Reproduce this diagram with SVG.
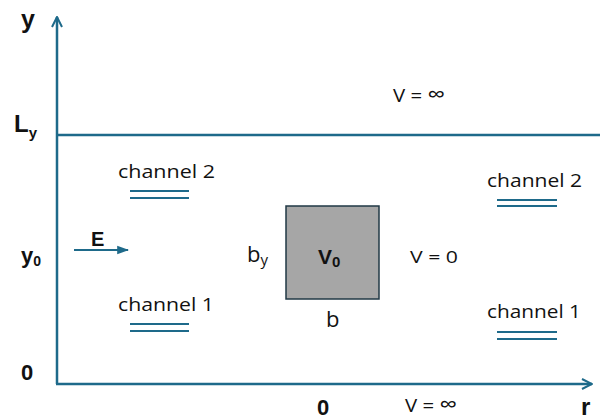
<svg xmlns="http://www.w3.org/2000/svg" width="600" height="419" viewBox="0 0 600 419">
<defs>
<style>
.ax{stroke:#1e6a8a;fill:none;stroke-width:2.5}
.ch{stroke:#1e6a8a;stroke-width:2}
.t{font-family:"Open Sans","Liberation Sans",Arial,sans-serif;fill:#111}
.b{font-family:"Liberation Sans",Arial,sans-serif;font-weight:bold;fill:#111}
</style>
<marker id="ah" viewBox="0 0 10 10" refX="9" refY="5" markerWidth="5" markerHeight="5" orient="auto" markerUnits="strokeWidth">
<path d="M1,1 L9,5 L1,9" fill="none" stroke="#1e6a8a" stroke-width="1.6"/>
</marker>
<marker id="ah2" viewBox="0 0 10 10" refX="9" refY="5" markerWidth="6" markerHeight="6" orient="auto" markerUnits="strokeWidth">
<path d="M0,1.5 L10,5 L0,8.5 Z" fill="#1e6a8a"/>
</marker>
</defs>
<rect width="600" height="419" fill="#fff"/>
<g id="connectors">
<line class="ax" x1="57" y1="384" x2="57" y2="17" marker-end="url(#ah)"/>
<line class="ax" x1="56" y1="384" x2="592" y2="384" marker-end="url(#ah)"/>
<line class="ax" x1="57" y1="135" x2="600" y2="135" stroke-width="2"/>
<line x1="74" y1="250" x2="128" y2="250" stroke="#1e6a8a" stroke-width="2" marker-end="url(#ah2)"/>
</g>
<g id="axis-labels">
<text class="b" x="21" y="28" font-size="25">y</text>
<text class="b" x="14" y="132" font-size="24">L<tspan font-size="15" dy="6">y</tspan></text>
<text class="b" x="21" y="263" font-size="22">y<tspan font-size="14" dy="3">0</tspan></text>
<text class="b" x="21" y="380" font-size="22">0</text>
<text class="b" x="317" y="415" font-size="22">0</text>
<text class="b" x="581" y="415" font-size="24">r</text>
<text class="b" x="91" y="246" font-size="20">E</text>
</g>
<g id="channel2-left">
<text class="t" x="118" y="178" font-size="17.5" textLength="97" lengthAdjust="spacingAndGlyphs">channel 2</text>
<line class="ch" x1="130" y1="191" x2="189" y2="191"/>
<line class="ch" x1="130" y1="198" x2="189" y2="198"/>
</g>
<g id="channel1-left">
<text class="t" x="118" y="311" font-size="17.5" textLength="96" lengthAdjust="spacingAndGlyphs">channel 1</text>
<line class="ch" x1="130" y1="324" x2="189" y2="324"/>
<line class="ch" x1="130" y1="331" x2="189" y2="331"/>
</g>
<g id="channel2-right">
<text class="t" x="487" y="187" font-size="17.5" textLength="95" lengthAdjust="spacingAndGlyphs">channel 2</text>
<line class="ch" x1="497" y1="200" x2="557" y2="200"/>
<line class="ch" x1="497" y1="206" x2="557" y2="206"/>
</g>
<g id="channel1-right">
<text class="t" x="487" y="318" font-size="17.5" textLength="94" lengthAdjust="spacingAndGlyphs">channel 1</text>
<line class="ch" x1="497" y1="332" x2="557" y2="332"/>
<line class="ch" x1="497" y1="339" x2="557" y2="339"/>
</g>
<g id="box">
<rect x="286" y="206" width="93" height="93" fill="#a6a6a6" stroke="#203845" stroke-width="1.5"/>
<text class="b" x="318" y="264" font-size="21">V<tspan font-size="15" dy="3">0</tspan></text>
<text class="t" x="247" y="262" font-size="22">b<tspan font-size="15" dy="3">y</tspan></text>
<text class="t" x="326" y="327" font-size="22">b</text>
</g>
<g id="potentials">
<text class="t" x="393" y="102" font-size="18" textLength="52" lengthAdjust="spacingAndGlyphs">V = <tspan font-size="22">∞</tspan></text>
<text class="t" x="410" y="263" font-size="17" textLength="48" lengthAdjust="spacingAndGlyphs">V = 0</text>
<text class="t" x="405" y="412" font-size="18" textLength="52" lengthAdjust="spacingAndGlyphs">V = <tspan font-size="22">∞</tspan></text>
</g>
</svg>
